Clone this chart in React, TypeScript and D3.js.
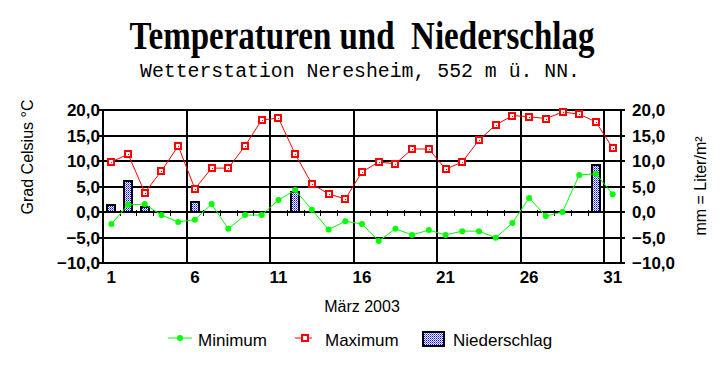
import React from "react";
import * as d3 from "d3";

const days = d3.range(1, 32);
const minimum = [-2.35, 1.4, 1.55, -0.6, -1.95, -1.5, 1.55, -3.3, -0.6, -0.6, 2.35, 4.3, 0.45, -3.45, -1.8, -2.35, -5.7, -3.3, -4.5, -3.55, -4.5, -3.75, -3.75, -5.05, -2.15, 2.75, -0.8, 0.0, 7.25, 7.5, 3.5];
const maximum = [9.8, 11.35, 3.8, 8.05, 12.95, 4.55, 8.6, 8.6, 12.95, 18.05, 18.4, 11.35, 5.5, 3.55, 2.55, 7.85, 9.8, 9.45, 12.35, 12.35, 8.4, 9.8, 14.1, 17.05, 18.9, 18.7, 18.3, 19.6, 19.2, 17.65, 12.55];
const niederschlag = [1.4, 6.1, 1.0, 0, 0, 2.0, 0, 0, 0, 0, 0, 3.9, 0, 0, 0, 0, 0, 0, 0, 0, 0, 0, 0, 0, 0, 0, 0, 0, 0, 9.2, 0];
const yTicks = [-10, -5, 0, 5, 10, 15, 20];
const xLabelDays = [1, 6, 11, 16, 21, 26, 31];
const gridDays = [5, 10, 15, 20, 25, 30];

const title = "Temperaturen und\u00a0\u00a0Niederschlag";
const subtitle = "Wetterstation Neresheim, 552 m ü. NN.";
const yLeftTitle = "Grad Celsius °C";
const yRightTitle = "mm = Liter/m²";
const xTitle = "März 2003";

const fmt = (v: number) => d3.format(".1f")(v).replace(".", ",");

export default function App() {
  const W = 723, H = 368;
  const left = 103, right = 621, top = 110, bottom = 263;
  const x = d3.scaleBand<number>().domain(days).range([left, right]).padding(0);
  const bw = x.bandwidth();
  const cx = (d: number) => (x(d) as number) + bw / 2;
  const y = d3.scaleLinear().domain([-10, 20]).range([bottom, top]);
  const y0 = y(0);
  const line = d3.line<number>().x((_, i) => cx(days[i])).y((v) => y(v));
  const sans = "'Liberation Sans', Arial, sans-serif";

  return (
    <svg width={W} height={H} style={{ display: "block", position: "absolute", left: 0, top: 0, background: "#fff" }}>
      <defs>
        <pattern id="dots" width="2" height="2" patternUnits="userSpaceOnUse">
          <rect width="2" height="2" fill="#fff" />
          <rect x="0" y="0" width="1" height="1" fill="#0000ff" />
          <rect x="1" y="1" width="1" height="1" fill="#6a6aff" />
        </pattern>
      </defs>
      <rect width={W} height={H} fill="#fff" />
      <text x={362} y={49} textAnchor="middle" fontFamily="'Liberation Serif', 'Times New Roman', serif" fontWeight="bold" fontSize={40} textLength={465} lengthAdjust="spacingAndGlyphs">{title}</text>
      <text x={360} y={77} textAnchor="middle" fontFamily="'Liberation Mono', 'Courier New', monospace" fontSize={20} textLength={440} lengthAdjust="spacingAndGlyphs">{subtitle}</text>

      <g shapeRendering="crispEdges" stroke="#000" strokeWidth={1.5}>
        {yTicks.map((t) => (
          <line key={"h" + t} x1={left - 4} x2={right + 4} y1={Math.round(y(t))} y2={Math.round(y(t))} />
        ))}
        {gridDays.map((d) => (
          <line key={"v" + d} x1={Math.round((x(d) as number) + bw)} x2={Math.round((x(d) as number) + bw)} y1={top} y2={bottom} />
        ))}
        <line x1={left} x2={left} y1={top} y2={bottom} />
        <line x1={right} x2={right} y1={top} y2={bottom} />
      </g>
      <g shapeRendering="crispEdges" stroke="#000" strokeWidth={1}>
        {days.slice(0, 30).map((d) => (
          <line key={"t" + d} x1={Math.round((x(d) as number) + bw) + 0.5} x2={Math.round((x(d) as number) + bw) + 0.5} y1={Math.round(y0) - 2} y2={Math.round(y0) + 4} />
        ))}
      </g>

      {niederschlag.map((v, i) =>
        v > 0 ? (
          <rect key={"b" + i} x={Math.round(cx(days[i]) - 4)} y={Math.round(y(v))} width={8} height={Math.round(y0) - Math.round(y(v))} fill="url(#dots)" stroke="#000" strokeWidth={1.5} shapeRendering="crispEdges" />
        ) : null
      )}

      <path d={line(maximum) || ""} fill="none" stroke="#ff0000" strokeWidth={1} />
      <path d={line(minimum) || ""} fill="none" stroke="#00ff00" strokeWidth={1} />
      {maximum.map((v, i) => (
        <g key={"m" + i} shapeRendering="crispEdges">
          <rect x={Math.round(cx(days[i])) - 3} y={Math.round(y(v)) - 3} width={6} height={6} fill="#fff" stroke="#ff0000" strokeWidth={1.2} />
          <rect x={Math.round(cx(days[i])) - 0.5} y={Math.round(y(v)) - 0.5} width={1.5} height={1.5} fill="#ff0000" />
        </g>
      ))}
      {minimum.map((v, i) => (
        <circle key={"n" + i} cx={cx(days[i])} cy={y(v)} r={3} fill="#00ff00" />
      ))}

      <g fontFamily={sans} fontWeight="bold" fontSize={17} fill="#000">
        {yTicks.map((t) => (
          <text key={"l" + t} x={100} y={y(t) + 6} textAnchor="end">{fmt(t)}</text>
        ))}
        {yTicks.map((t) => (
          <text key={"r" + t} x={632} y={y(t) + 6} textAnchor="start">{fmt(t)}</text>
        ))}
        {xLabelDays.map((d) => (
          <text key={"x" + d} x={cx(d)} y={283} textAnchor="middle">{d}</text>
        ))}
      </g>
      <g fontFamily={sans} fontSize={16} fill="#000">
        <text x={362} y={312} textAnchor="middle">{xTitle}</text>
        <text transform={`translate(33,157) rotate(-90)`} textAnchor="middle">{yLeftTitle}</text>
        <text transform={`translate(706,186) rotate(-90)`} textAnchor="middle">{yRightTitle}</text>
      </g>

      <g>
        <line x1={168} x2={192} y1={338} y2={338} stroke="#00ff00" strokeWidth={1} />
        <circle cx={180} cy={338} r={3} fill="#00ff00" />
        <text x={198} y={346} fontFamily={sans} fontSize={17}>Minimum</text>
        <line x1={295} x2={312} y1={338} y2={338} stroke="#ff0000" strokeWidth={1} />
        <rect x={302} y={335} width={6} height={6} fill="#fff" stroke="#ff0000" strokeWidth={1.2} shapeRendering="crispEdges" />
        <text x={325} y={346} fontFamily={sans} fontSize={17}>Maximum</text>
        <rect x={423} y={332} width={21} height={14} fill="url(#dots)" stroke="#000" strokeWidth={1.2} shapeRendering="crispEdges" />
        <text x={453} y={346} fontFamily={sans} fontSize={17}>Niederschlag</text>
      </g>
    </svg>
  );
}
